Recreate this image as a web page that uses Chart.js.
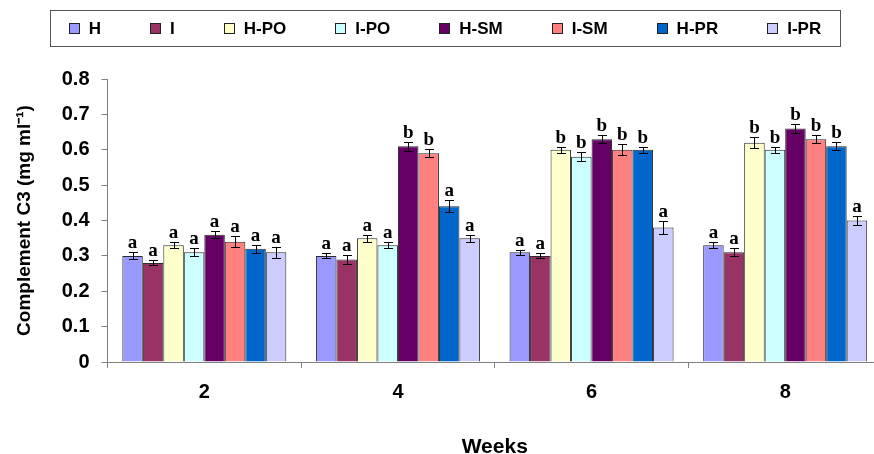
<!DOCTYPE html>
<html>
<head>
<meta charset="utf-8">
<title>Complement C3</title>
<script src="https://cdn.jsdelivr.net/npm/chart.js@4.4.1/dist/chart.umd.min.js"></script>
<style>
    html, body { margin: 0; padding: 0; background: #fff; overflow: hidden; }
    #wrap { width: 890px; height: 454px; }
</style>
</head>
<body>
<div id="wrap"><canvas id="c3Chart" width="890" height="454"></canvas></div>
<script>
// --- data ---
const weeks = ["2", "4", "6", "8"];
const seriesNames = ["H", "I", "H-PO", "I-PO", "H-SM", "I-SM", "H-PR", "I-PR"];

const valH   = [0.30, 0.30, 0.31, 0.33];
const valI   = [0.28, 0.29, 0.30, 0.31];
const valHPO = [0.33, 0.35, 0.60, 0.62];
const valIPO = [0.31, 0.33, 0.58, 0.60];
const valHSM = [0.36, 0.61, 0.63, 0.66];
const valISM = [0.34, 0.59, 0.60, 0.63];
const valHPR = [0.32, 0.44, 0.60, 0.61];
const valIPR = [0.31, 0.35, 0.38, 0.40];

const errH   = [0.010, 0.007, 0.007, 0.009];
const errI   = [0.007, 0.012, 0.007, 0.011];
const errHPO = [0.009, 0.010, 0.008, 0.015];
const errIPO = [0.011, 0.009, 0.013, 0.009];
const errHSM = [0.009, 0.013, 0.011, 0.014];
const errISM = [0.016, 0.011, 0.016, 0.011];
const errHPR = [0.011, 0.017, 0.009, 0.011];
const errIPR = [0.016, 0.010, 0.018, 0.013];

const letH   = ["a", "a", "a", "a"];
const letI   = ["a", "a", "a", "a"];
const letHPO = ["a", "a", "b", "b"];
const letIPO = ["a", "a", "b", "b"];
const letHSM = ["a", "b", "b", "b"];
const letISM = ["a", "b", "b", "b"];
const letHPR = ["a", "a", "b", "b"];
const letIPR = ["a", "a", "a", "a"];

const yTicks = [0, 0.1, 0.2, 0.3, 0.4, 0.5, 0.6, 0.7, 0.8];

const seriesValues = [valH, valI, valHPO, valIPO, valHSM, valISM, valHPR, valIPR];
const seriesErrors = [errH, errI, errHPO, errIPO, errHSM, errISM, errHPR, errIPR];
const seriesLetters = [letH, letI, letHPO, letIPO, letHSM, letISM, letHPR, letIPR];
const seriesColors = ["#9999FF", "#993366", "#FFFFCC", "#CCFFFF", "#660066", "#FF8080", "#0066CC", "#CCCCFF"];

const SANS = "'Liberation Sans', Arial, sans-serif";
const SERIF = "'Liberation Serif', 'Times New Roman', serif";

// error bars + letters above each bar
const errorBarPlugin = {
    id: "errorBars",
    afterDatasetsDraw(chart) {
        const ctx = chart.ctx;
        const yScale = chart.scales.y;
        ctx.save();
        ctx.strokeStyle = "#000";
        ctx.lineWidth = 1;
        ctx.fillStyle = "#000";
        ctx.font = "bold 19px " + SERIF;
        ctx.textAlign = "center";
        ctx.textBaseline = "alphabetic";
        chart.data.datasets.forEach((ds, di) => {
            const meta = chart.getDatasetMeta(di);
            meta.data.forEach((bar, i) => {
                const v = ds.data[i];
                const e = ds.errors[i];
                const yTop = Math.round(yScale.getPixelForValue(v + e)) + 0.5;
                const yBot = Math.round(yScale.getPixelForValue(v - e)) + 0.5;
                const x = Math.round(bar.x) + 0.5;
                ctx.beginPath();
                ctx.moveTo(x, yTop); ctx.lineTo(x, yBot);
                ctx.moveTo(x - 4.5, yTop); ctx.lineTo(x + 4.5, yTop);
                ctx.moveTo(x - 4.5, yBot); ctx.lineTo(x + 4.5, yBot);
                ctx.stroke();
                ctx.fillText(ds.letters[i], bar.x, yTop - 5);
            });
        });
        ctx.restore();
    },
};

// boxed legend across the top
const boxLegendPlugin = {
    id: "boxLegend",
    afterDraw(chart, args, opts) {
        const ctx = chart.ctx;
        const { x, y, w, h, gap, box } = opts;
        ctx.save();
        ctx.font = "bold 17px " + SANS;
        ctx.textBaseline = "middle";
        ctx.textAlign = "left";
        const items = chart.data.datasets.map((ds) => ({
            label: ds.label,
            color: ds.backgroundColor,
            tw: ctx.measureText(ds.label).width,
        }));
        const total = items.reduce((s, it) => s + box + 10 + it.tw, 0) + gap * (items.length - 1);
        let cx = x + (w - total) / 2;
        const cy = y + h / 2;

        ctx.strokeStyle = "#555";
        ctx.lineWidth = 1;
        ctx.strokeRect(x + 0.5, y + 0.5, w, h);

        for (const it of items) {
            const bx = Math.round(cx) + 0.5;
            const by = Math.round(cy - box / 2) + 0.5;
            ctx.fillStyle = it.color;
            ctx.fillRect(bx, by, box, box);
            ctx.strokeStyle = "#222";
            ctx.strokeRect(bx, by, box, box);
            ctx.fillStyle = "#000";
            ctx.fillText(it.label, cx + box + 10, cy + 1);
            cx += box + 10 + it.tw + gap;
        }
        ctx.restore();
    },
};

Chart.defaults.font.family = SANS;
Chart.defaults.color = "#000";

const datasets = seriesNames.map((name, i) => ({
    label: name,
    data: seriesValues[i],
    errors: seriesErrors[i],
    letters: seriesLetters[i],
    backgroundColor: seriesColors[i],
    borderColor: "#2a2a2a",
    borderWidth: 1,
    categoryPercentage: 0.847,
    barPercentage: 1.0,
}));

new Chart(document.getElementById("c3Chart").getContext("2d"), {
    type: "bar",
    data: { labels: weeks, datasets },
    options: {
        responsive: false,
        animation: false,
        layout: { padding: { left: 9, top: 79, right: 8, bottom: 0 } },
        plugins: {
            legend: { display: false },
            tooltip: { enabled: false },
            boxLegend: { x: 50, y: 10, w: 790, h: 36, gap: 49, box: 10 },
        },
        scales: {
            x: {
                grid: { offset: true, drawOnChartArea: false, tickLength: 6, color: "#808080" },
                border: { color: "#808080", width: 1 },
                ticks: { padding: 12, font: { size: 20, weight: "bold" } },
                title: {
                    display: true,
                    text: "Weeks",
                    font: { size: 21, weight: "bold", lineHeight: 0.6 },
                    padding: 0,
                },
                afterFit(scale) { scale.height = 92; },
            },
            y: {
                min: 0,
                max: 0.8,
                afterBuildTicks(scale) { scale.ticks = yTicks.map((v) => ({ value: v })); },
                ticks: {
                    padding: 12,
                    font: { size: 20, weight: "bold" },
                    callback: (v) => (v === 0 ? "0" : v.toFixed(1)),
                },
                grid: { drawOnChartArea: false, tickLength: 6, color: "#808080" },
                border: { color: "#808080", width: 1 },
                title: {
                    display: true,
                    text: "Complement C3 (mg ml\u207B\u00B9)",
                    font: { size: 19, weight: "bold" },
                    padding: { top: 4, bottom: 0 },
                },
                afterFit(scale) { scale.width = 98.5; },
            },
        },
    },
    plugins: [errorBarPlugin, boxLegendPlugin],
});
</script>
</body>
</html>
